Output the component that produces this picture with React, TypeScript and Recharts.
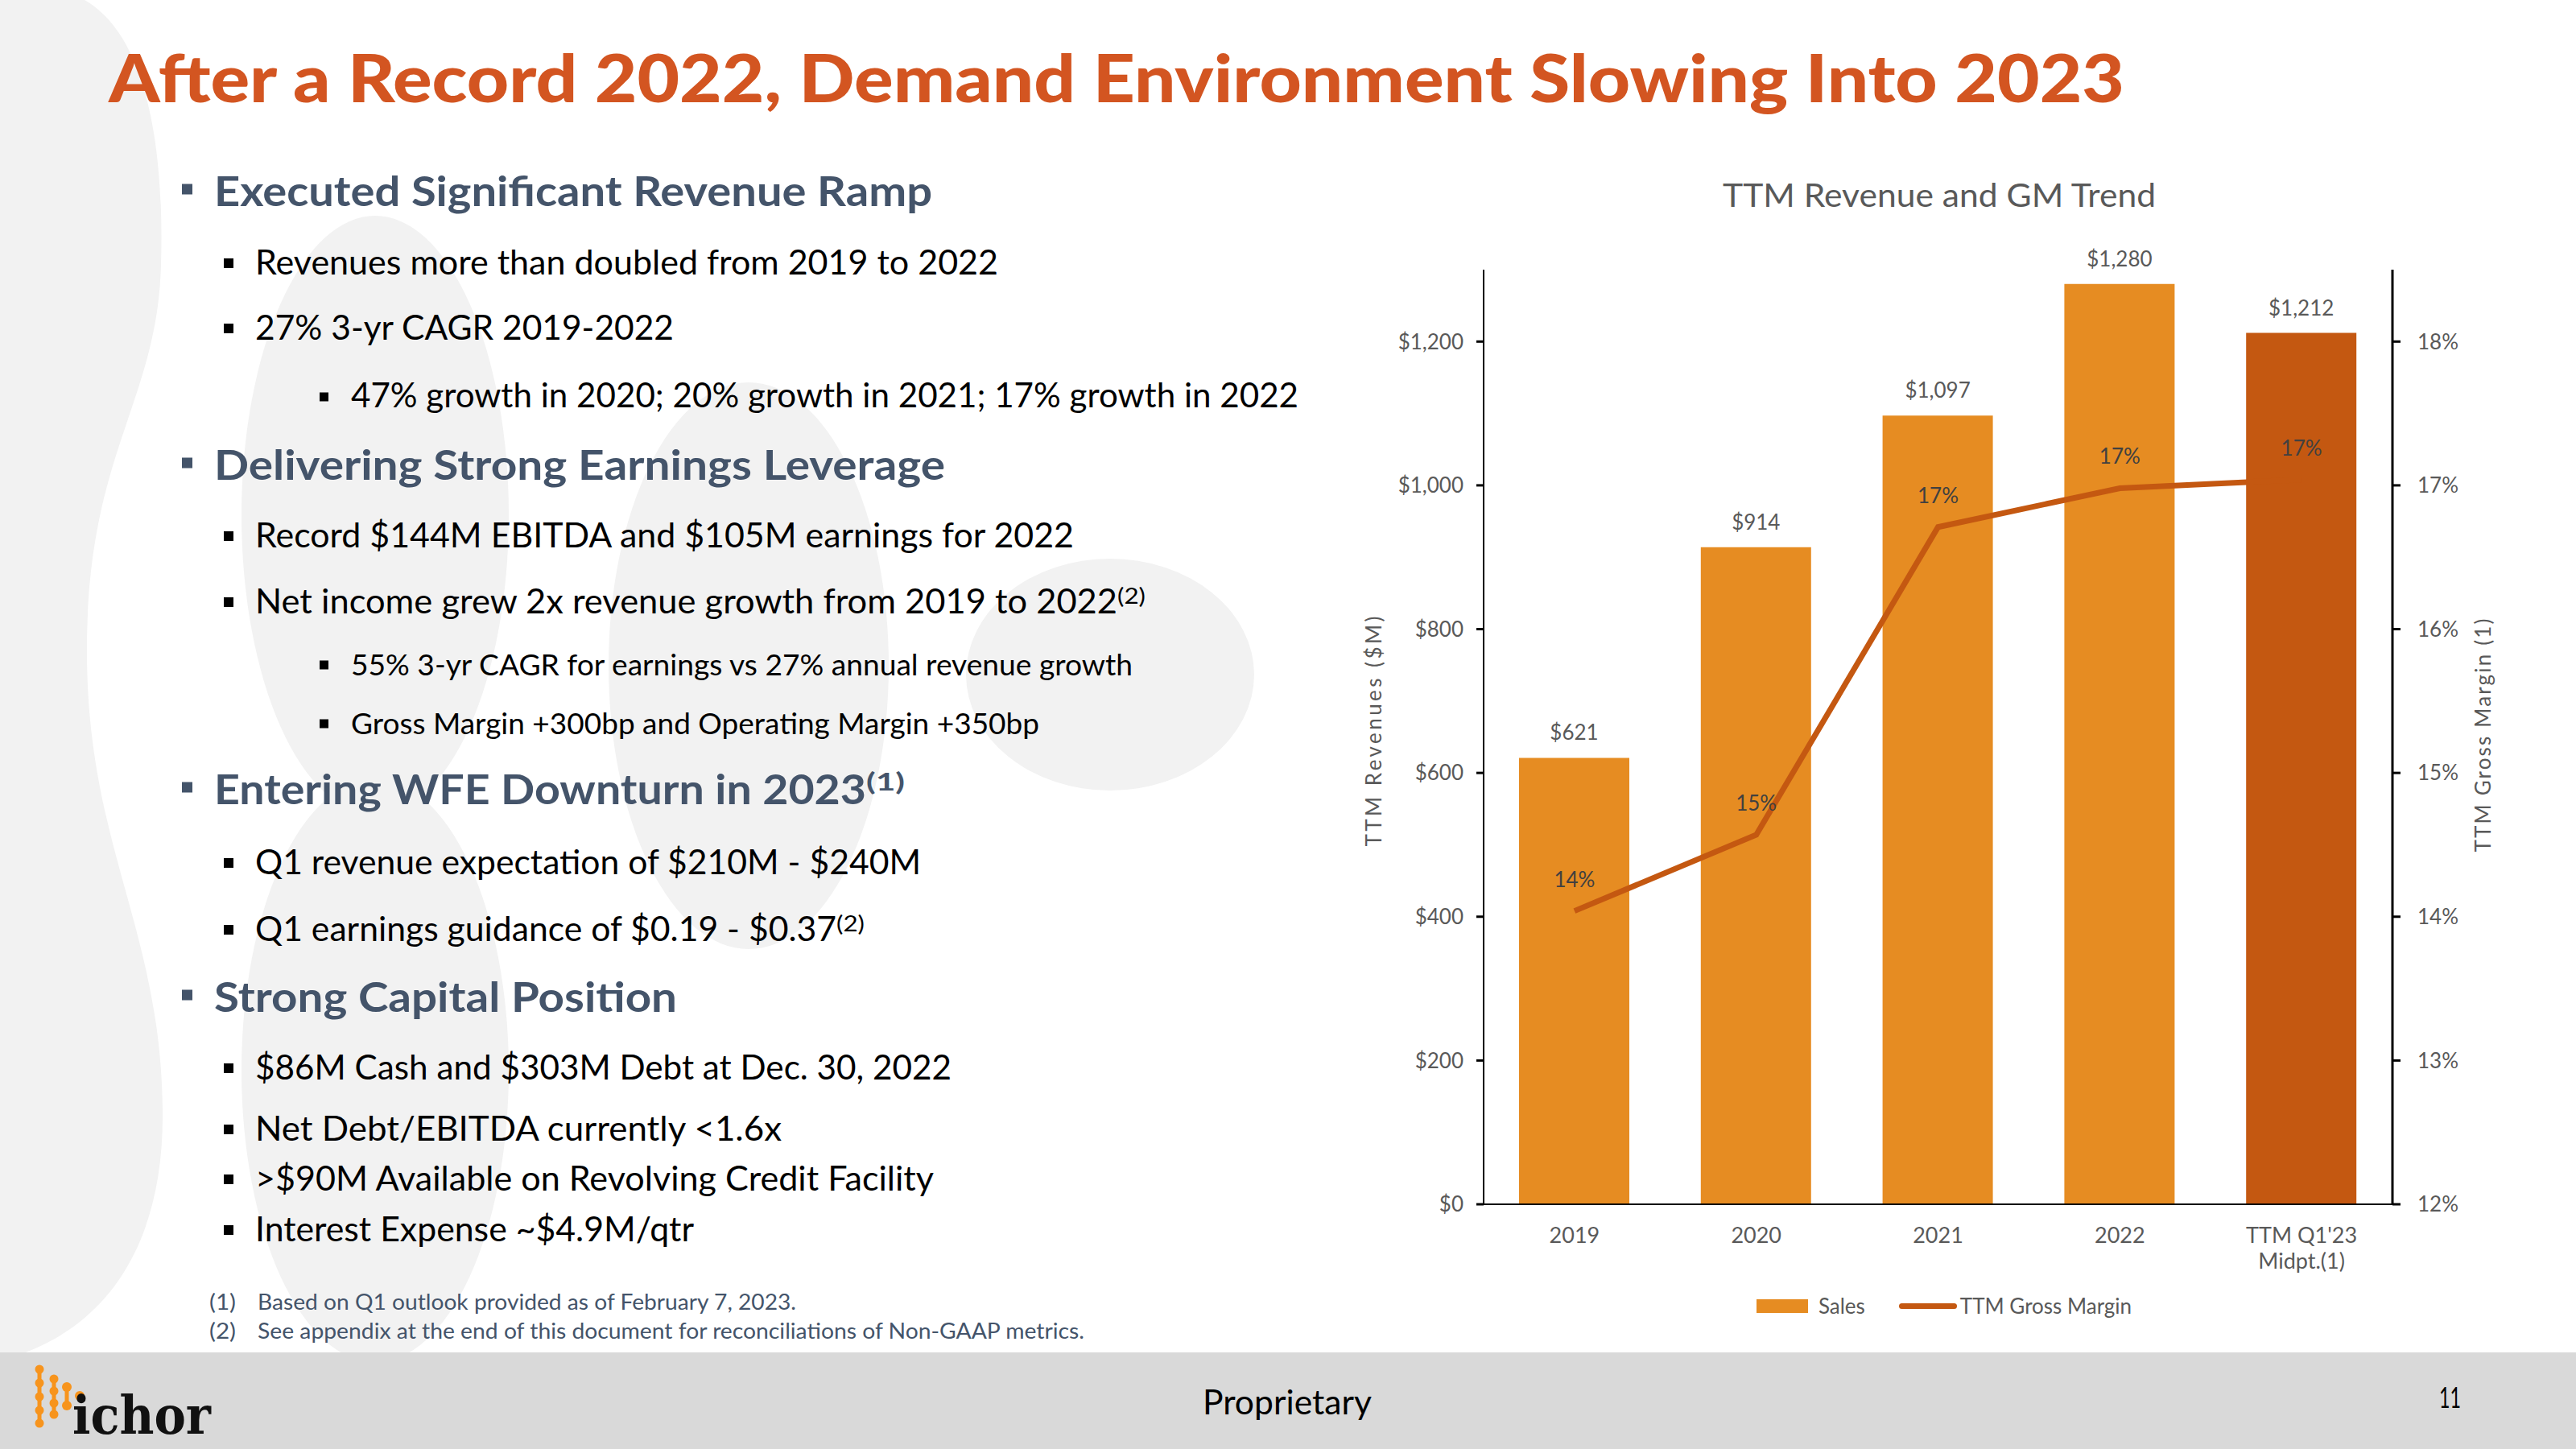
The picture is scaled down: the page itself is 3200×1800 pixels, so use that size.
import React from 'react';
import { ComposedChart, Bar, Line, XAxis, YAxis, Cell, LabelList, Legend } from 'recharts';

// chart values
const categories = ['2019', '2020', '2021', '2022', "TTM Q1'23\nMidpt.(1)"];
const sales = [621, 914, 1097, 1280, 1212];
const grossMargin = [14.04, 14.57, 16.71, 16.98, 17.04];
const revenueTicks = [0, 200, 400, 600, 800, 1000, 1200];
const marginTicks = [12, 13, 14, 15, 16, 17, 18];

const data = categories.map((category, i) => ({ category, sales: sales[i], gm: grossMargin[i] }));

const FONT = 'Lato, "Open Sans", sans-serif';
const ORANGE = '#E68C22';
const DARK = '#C45811';
const GREY_TEXT = '#595959';
const SLATE = '#44546A';

// slide copy on the left
const bullets = [
  { text: 'Executed Significant Revenue Ramp', level: 0, y: 256, w: 892 },
  { text: 'Revenues more than doubled from 2019 to 2022', level: 1, y: 341, w: 923 },
  { text: '27% 3-yr CAGR 2019-2022', level: 1, y: 422, w: 520 },
  { text: '47% growth in 2020; 20% growth in 2021; 17% growth in 2022', level: 2, y: 506, w: 1177, size: 42 },
  { text: 'Delivering Strong Earnings Leverage', level: 0, y: 596, w: 908 },
  { text: 'Record $144M EBITDA and $105M earnings for 2022', level: 1, y: 680, w: 1017 },
  { text: 'Net income grew 2x revenue growth from 2019 to 2022', level: 1, y: 762, w: 1071, sup: '(2)', supW: 35 },
  { text: '55% 3-yr CAGR for earnings vs 27% annual revenue growth', level: 2, y: 839, w: 971, size: 36 },
  { text: 'Gross Margin +300bp and Operating Margin +350bp', level: 2, y: 912, w: 855, size: 36 },
  { text: 'Entering WFE Downturn in 2023', level: 0, y: 999, w: 810, sup: '(1)', supW: 48 },
  { text: 'Q1 revenue expectation of $210M - $240M', level: 1, y: 1086, w: 827 },
  { text: 'Q1 earnings guidance of $0.19 - $0.37', level: 1, y: 1169, w: 722, sup: '(2)', supW: 35 },
  { text: 'Strong Capital Position', level: 0, y: 1257, w: 575 },
  { text: '$86M Cash and $303M Debt at Dec. 30, 2022', level: 1, y: 1341, w: 865 },
  { text: 'Net Debt/EBITDA currently <1.6x', level: 1, y: 1417, w: 654 },
  { text: '>$90M Available on Revolving Credit Facility', level: 1, y: 1479, w: 843 },
  { text: 'Interest Expense ~$4.9M/qtr', level: 1, y: 1542, w: 545 },
];

const footnotes = [
  { mark: '(1)', text: 'Based on Q1 outlook provided as of February 7, 2023.', y: 1627, w: 669 },
  { mark: '(2)', text: 'See appendix at the end of this document for reconciliations of Non-GAAP metrics.', y: 1663, w: 1027 },
];

const LEVELS = [
  { bx: 226, tx: 266, size: 51, bs: 13, weight: 700, color: SLATE, bulletUp: 21 },
  { bx: 278, tx: 317, size: 42, bs: 12, weight: 400, color: '#000', bulletUp: 14 },
  { bx: 397, tx: 436, size: 42, bs: 11, weight: 400, color: '#000', bulletUp: 13 },
];

function Slide() {
  return (
    <svg width={3200} height={1800} style={{ position: 'absolute', left: 0, top: 0 }} fontFamily={FONT}>
      {/* faint background droplets */}
      <g fill="#F2F2F2">
        <path d="M0,0 L105,0 C175,40 205,160 200,330 C195,500 110,560 108,800 C106,1050 200,1150 202,1380 C204,1560 120,1660 0,1690 Z" />
        <ellipse cx={466} cy={640} rx={166} ry={372} />
        <ellipse cx={466} cy={1330} rx={166} ry={362} />
        <ellipse cx={930} cy={827} rx={174} ry={352} />
        <ellipse cx={1379} cy={838} rx={179} ry={144} />
      </g>
      <rect x={0} y={1680} width={3200} height={120} fill="#D9D9D9" />

      <text x={135} y={127} fontSize={82} fontWeight={900} fill="#D35521" textLength={2504} lengthAdjust="spacingAndGlyphs">
        After a Record 2022, Demand Environment Slowing Into 2023
      </text>

      {bullets.map((b, i) => {
        const lv = LEVELS[b.level];
        const size = b.size ?? lv.size;
        return (
          <g key={i}>
            <rect x={lv.bx} y={b.y - lv.bulletUp - lv.bs / 2} width={lv.bs} height={lv.bs} fill={lv.color} />
            <text x={lv.tx} y={b.y} fontSize={size} fontWeight={lv.weight} fill={lv.color} textLength={b.w} lengthAdjust="spacingAndGlyphs">
              {b.text}
            </text>
            {b.sup && (
              <text
                x={lv.tx + b.w}
                y={b.y - (b.level === 0 ? 17 : 12)}
                fontSize={b.level === 0 ? 30 : 26}
                fontWeight={lv.weight}
                fill={lv.color}
                textLength={b.supW}
                lengthAdjust="spacingAndGlyphs"
              >
                {b.sup}
              </text>
            )}
          </g>
        );
      })}

      {footnotes.map((f, i) => (
        <g key={i} fontSize={27} fill={SLATE}>
          <text x={260} y={f.y} textLength={33} lengthAdjust="spacingAndGlyphs">{f.mark}</text>
          <text x={320} y={f.y} textLength={f.w} lengthAdjust="spacingAndGlyphs">{f.text}</text>
        </g>
      ))}

      <text x={2409} y={257} textAnchor="middle" fontSize={40} fill={GREY_TEXT} textLength={538} lengthAdjust="spacingAndGlyphs">
        TTM Revenue and GM Trend
      </text>

      {/* footer */}
      <text x={1494} y={1757} fontSize={42} fill="#000" textLength={210} lengthAdjust="spacingAndGlyphs">Proprietary</text>
      <text x={3030} y={1749} fontSize={36} fill="#000" textLength={27} lengthAdjust="spacingAndGlyphs">11</text>

      {/* ichor logo */}
      <g stroke="#F7941D" strokeWidth={5} fill="#F7941D" strokeLinecap="round">
        <line x1={49} y1={1701} x2={49} y2={1768} />
        {[1701, 1718, 1735, 1752, 1768].map((cy) => <circle key={cy} cx={49} cy={cy} r={5.5} stroke="none" />)}
        <line x1={67} y1={1713} x2={67} y2={1757} />
        {[1713, 1728, 1743, 1757].map((cy) => <circle key={cy} cx={67} cy={cy} r={5.5} stroke="none" />)}
        <line x1={83} y1={1723} x2={83} y2={1746} />
        {[1723, 1746].map((cy) => <circle key={cy} cx={83} cy={cy} r={6} stroke="none" />)}
        <circle cx={99} cy={1734} r={6} stroke="none" />
      </g>
      <text x={90} y={1781} fontFamily='"DejaVu Serif", serif' fontWeight={700} fontSize={66} fill="#111" textLength={172} lengthAdjust="spacingAndGlyphs">
        ichor
      </text>
    </svg>
  );
}

function CategoryTick(props: any) {
  const { x, y, payload } = props;
  const lines = String(payload.value).split('\n');
  return (
    <text x={x} y={y} textAnchor="middle" fill={GREY_TEXT} fontSize={27}>
      {lines.map((l, i) => (
        <tspan key={i} x={x} y={y + 48 + i * 32}>{l}</tspan>
      ))}
    </text>
  );
}

function LegendContent(props: any) {
  const payload = props.payload || [];
  return (
    <div style={{ display: 'flex', justifyContent: 'center', alignItems: 'center', paddingLeft: 50, fontSize: 26, color: GREY_TEXT, fontFamily: FONT }}>
      {payload.map((entry: any, i: number) =>
        entry.type === 'line' ? (
          <div key={i} style={{ display: 'flex', alignItems: 'center' }}>
            <div style={{ width: 72, height: 7, borderRadius: 4, background: DARK, marginRight: 4 }} />
            <span>{entry.value}</span>
          </div>
        ) : (
          <div key={i} style={{ display: 'flex', alignItems: 'center', marginRight: 42 }}>
            <div style={{ width: 64, height: 17, background: ORANGE, marginRight: 13 }} />
            <span>{entry.value}</span>
          </div>
        )
      )}
    </div>
  );
}

const leftTitle = (props: any) => {
  const vb = props.viewBox || {};
  const cy = vb.y + vb.height / 2 - 7;
  return (
    <text transform={`translate(66, ${cy}) rotate(-90)`} textAnchor="middle" dominantBaseline="central" fontSize={26} fill={GREY_TEXT} textLength={286} lengthAdjust="spacing">
      TTM Revenues ($M)
    </text>
  );
};

const rightTitle = (props: any) => {
  const vb = props.viewBox || {};
  const cy = vb.y + vb.height / 2 - 2;
  return (
    <text transform={`translate(1444, ${cy}) rotate(-90)`} textAnchor="middle" dominantBaseline="central" fontSize={26} fill={GREY_TEXT} textLength={290} lengthAdjust="spacing">
      TTM Gross Margin (1)
    </text>
  );
};

function RevenueGmChart() {
  return (
    <ComposedChart width={1500} height={1500} data={data} margin={{ top: 155, right: 68, left: 83, bottom: 104 }} style={{ fontFamily: FONT }}>
      <XAxis
        dataKey="category"
        height={80}
        interval={0}
        axisLine={{ stroke: '#000', strokeWidth: 2 }}
        tickLine={false}
        tickSize={0}
        tickMargin={0}
        tick={<CategoryTick />}
      />
      <YAxis
        yAxisId="rev"
        orientation="left"
        width={120}
        domain={[0, 1300]}
        ticks={revenueTicks}
        tickFormatter={(v) => `$${Number(v).toLocaleString('en-US')}`}
        axisLine={{ stroke: '#000', strokeWidth: 2 }}
        tickLine={{ stroke: '#000', strokeWidth: 3 }}
        tickSize={9}
        tickMargin={16}
        tick={{ fill: GREY_TEXT, fontSize: 26 }}
        label={leftTitle}
      />
      <YAxis
        yAxisId="gm"
        orientation="right"
        width={100}
        domain={[12, 18.5]}
        ticks={marginTicks}
        tickFormatter={(v) => `${v}%`}
        axisLine={{ stroke: '#000', strokeWidth: 3 }}
        tickLine={{ stroke: '#000', strokeWidth: 3 }}
        tickSize={10}
        tickMargin={21}
        tick={{ fill: GREY_TEXT, fontSize: 26 }}
        label={rightTitle}
      />
      <Legend
        layout="horizontal"
        verticalAlign="middle"
        align="center"
        content={<LegendContent />}
        wrapperStyle={{ top: 1426, left: 0, width: 1500, height: 40 }}
      />
      <Bar yAxisId="rev" dataKey="sales" name="Sales" fill={ORANGE} barSize={137} isAnimationActive={false} legendType="rect">
        {data.map((_, i) => (
          <Cell key={i} fill={i === data.length - 1 ? DARK : ORANGE} />
        ))}
        <LabelList
          dataKey="sales"
          position="top"
          offset={22}
          fill={GREY_TEXT}
          fontSize={26}
          formatter={(v: any) => `$${Number(v).toLocaleString('en-US')}`}
        />
      </Bar>
      <Line
        yAxisId="gm"
        type="linear"
        dataKey="gm"
        name="TTM Gross Margin"
        stroke={DARK}
        strokeWidth={7}
        dot={false}
        activeDot={false}
        isAnimationActive={false}
        legendType="line"
      >
        <LabelList dataKey="gm" position="top" offset={30} fill="#404040" fontSize={26} formatter={(v: any) => `${Math.round(Number(v))}%`} />
      </Line>
    </ComposedChart>
  );
}

export default function App() {
  return (
    <div style={{ position: 'absolute', left: 0, top: 0, width: 3200, height: 1800, background: '#fff', overflow: 'hidden', fontFamily: FONT }}>
      <Slide />
      <div style={{ position: 'absolute', left: 1640, top: 180 }}>
        <RevenueGmChart />
      </div>
    </div>
  );
}
